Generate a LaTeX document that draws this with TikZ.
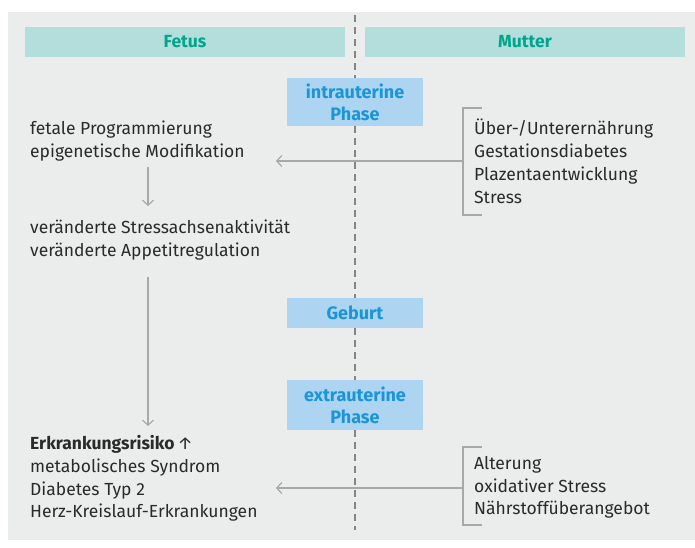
\documentclass[tikz,border=0pt]{standalone}
\usepackage{fontspec}
\setmainfont{Fira Sans}
\usetikzlibrary{arrows.meta}
\definecolor{panel}{HTML}{EBECEC}
\definecolor{headbg}{HTML}{B3DEDB}
\definecolor{headfg}{HTML}{00A58E}
\definecolor{phasebg}{HTML}{ADD4F0}
\definecolor{phasefg}{HTML}{1A96D8}
\definecolor{linegray}{HTML}{A8A8A8}
\definecolor{dashgray}{HTML}{858585}
\definecolor{txt}{HTML}{2A2A2A}
\tikzset{
  header/.style={fill=headbg, text=headfg, font=\bfseries\fontsize{17.5}{20}\selectfont, minimum width=320pt, minimum height=30pt, inner sep=0pt},
  phase/.style={fill=phasebg, text=phasefg, font=\bfseries\fontsize{18}{22}\selectfont, minimum width=136pt, inner sep=0pt, align=center},
  body/.style={text=txt, font=\fontsize{17.5}{22.8}\selectfont, align=left, anchor=north west, inner sep=0pt},
  conn/.style={draw=linegray, line width=1.6pt},
  arr/.style={conn, -{Straight Barb[length=5pt,width=11pt,line width=1.2pt]}},
  midline/.style={draw=dashgray, line width=2pt, dash pattern=on 7pt off 5pt}
}
\begin{document}
\begin{tikzpicture}[x=1pt,y=-1pt]
\useasboundingbox (0,0) rectangle (695,547);
\fill[white] (0,0) rectangle (695,547);
\fill[panel] (8,12) rectangle (695,540);
% headers
\node[header] (fetus) at (185,42) {Fetus};
\node[header] (mutter) at (525,42) {Mutter};
% phase boxes
\node[phase, minimum height=48pt] (intra) at (355,102) {intrauterine\\Phase};
\node[phase, minimum height=30pt] (geburt) at (355,313) {Geburt};
\node[phase, minimum height=50pt] (extra) at (355,405) {extrauterine\\Phase};
\coordinate (dtop) at (355,15);
\coordinate (dbot) at (355,530);
\draw[midline] (dtop) -- (intra.north);
\draw[midline] (intra.south) -- (geburt.north);
\draw[midline] (geburt.south) -- (extra.north);
\draw[midline] (extra.south) -- (dbot);
% left texts
\node[body] (fp) at (30,121) {fetale Programmierung\\epigenetische Modifikation};
\node[body] (vs) at (30,220) {veränderte Stressachsenaktivität\\veränderte Appetitregulation};
\node[body] (er) at (30,435) {\textbf{Erkrankungsrisiko}\,↑\\metabolisches Syndrom\\Diabetes Typ 2\\Herz-Kreislauf-Erkrankungen};
\coordinate (a1s) at (148,167);
\coordinate (a1e) at (148,206);
\coordinate (a2s) at (148,277);
\coordinate (a2e) at (148,426);
\draw[arr] (a1s) -- (a1e);
\draw[arr] (a2s) -- (a2e);
% right texts
\node[body] (m1) at (474,119) {Über-/Unterernährung\\Gestationsdiabetes\\Plazentaentwicklung\\Stress};
\node[body] (m2) at (474,456) {Alterung\\oxidativer Stress\\Nährstoffüberangebot};
% brackets
\draw[conn] (482,108) -- (463,108) -- (463,215) -- (482,215);
\draw[conn] (482,447) -- (463,447) -- (463,525) -- (482,525);
\coordinate (b1) at (463,161);
\coordinate (t1) at (276,161);
\coordinate (b2) at (463,488);
\coordinate (t2) at (276,488);
\draw[arr] (b1) -- (t1);
\draw[arr] (b2) -- (t2);
\end{tikzpicture}
\end{document}
